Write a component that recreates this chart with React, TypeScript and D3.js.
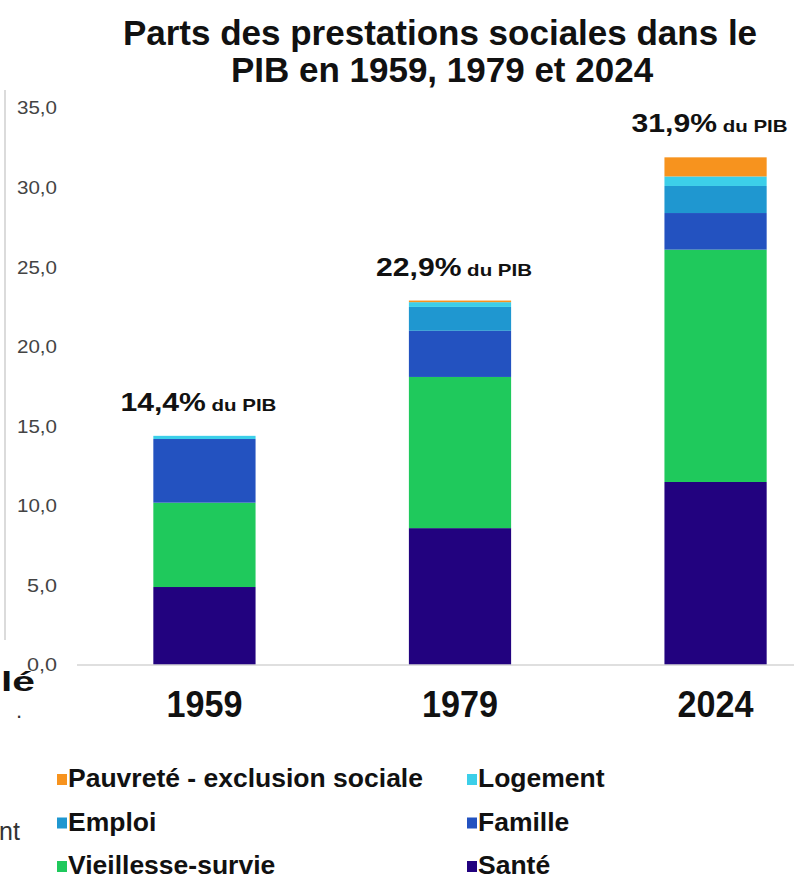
import React from 'react';
import { scaleBand, scaleLinear, stack, format } from 'd3';

const years = ['1959', '1979', '2024'];
const sante = [4.9, 8.6, 11.5];
const vieillesse = [5.3, 9.5, 14.6];
const famille = [4.0, 2.9, 2.3];
const emploi = [0.0, 1.5, 1.7];
const logement = [0.2, 0.3, 0.6];
const pauvrete = [0.0, 0.1, 1.2];
const totalLabels = ['14,4%', '22,9%', '31,9%'];
const yTicks = [0, 5, 10, 15, 20, 25, 30, 35];

const seriesKeys = ['Santé', 'Vieillesse-survie', 'Famille', 'Emploi', 'Logement', 'Pauvreté - exclusion sociale'];
const seriesValues = [sante, vieillesse, famille, emploi, logement, pauvrete];
const colors = ['#22027f', '#1fc95c', '#2352c0', '#1f97d0', '#3ccfe9', '#f7931e'];

// legend order as in the picture (two columns)
const legendRows = [
  ['Pauvreté - exclusion sociale', 'Logement'],
  ['Emploi', 'Famille'],
  ['Vieillesse-survie', 'Santé'],
];

const W = 794;
const H = 879;
const font = 'Arial, "Liberation Sans", Helvetica, sans-serif';

const App = () => {
  const table = years.map((year, i) => {
    const row: any = { year };
    seriesKeys.forEach((k, j) => { row[k] = seriesValues[j][i]; });
    return row;
  });
  const layers = stack().keys(seriesKeys)(table);

  const x = scaleBand().domain(years).range([0, 920]).paddingInner(0.6).paddingOuter(0.6);
  const y = scaleLinear().domain([0, 35]).range([665, 108]);
  const fmt = (v: number) => format('.1f')(v).replace('.', ',');
  const colorOf = (k: string) => colors[seriesKeys.indexOf(k)];

  return (
    <svg width={W} height={H} style={{ position: 'absolute', left: 0, top: 0, background: '#fff' }}
      fontFamily={font}>
      {/* bits of the neighbouring page, cut off at the left */}
      <line x1={5} x2={5} y1={90} y2={640} stroke="#cfcfcf" strokeWidth={1.5} />
      <text x={1} y={691} fontSize={27} fontWeight="bold" fill="#111" textLength={34} lengthAdjust="spacingAndGlyphs">lé</text>
      <text x={16} y={718} fontSize={22} fill="#333">.</text>
      <text x={-1} y={840} fontSize={25} fill="#333">nt</text>

      <text textAnchor="middle" fontSize={35} fontWeight="bold" fill="#111">
        <tspan x={440} y={45}>Parts des prestations sociales dans le</tspan>
        <tspan x={442} y={82}>PIB en 1959, 1979 et 2024</tspan>
      </text>

      {yTicks.map(t => {
        const s = fmt(t);
        return (
          <text key={t} x={57} y={y(t)} dy="0.36em" textAnchor="end" fontSize={18} fill="#444"
            textLength={s.length * 10} lengthAdjust="spacingAndGlyphs">{s}</text>
        );
      })}

      {layers.map(layer => (
        <g key={layer.key} fill={colorOf(layer.key)}>
          {layer.map((d, i) => (
            <rect key={i} x={x(years[i])} width={x.bandwidth()} y={y(d[1])} height={Math.max(0, y(d[0]) - y(d[1]))} />
          ))}
        </g>
      ))}

      <line x1={77} x2={W} y1={y(0)} y2={y(0)} stroke="#d4d4d4" strokeWidth={1.5} />

      {years.map((yr, i) => {
        const total = layers[layers.length - 1][i][1];
        const cx = x(yr)! + x.bandwidth() / 2;
        return (
          <g key={yr}>
            <text x={cx - 84} y={y(total) - 25} fontWeight="bold" fill="#111"
              textLength={156} lengthAdjust="spacingAndGlyphs">
              <tspan fontSize={25}>{totalLabels[i]}</tspan>
              <tspan fontSize={17}> du PIB</tspan>
            </text>
            <text x={cx} y={717} textAnchor="middle" fontSize={36} fontWeight="bold" fill="#111"
              textLength={76} lengthAdjust="spacingAndGlyphs">{yr}</text>
          </g>
        );
      })}

      {legendRows.map((row, r) => row.map((k, c) => {
        const lx = c === 0 ? 57 : 467;
        const ly = 787 + r * 43.5;
        return (
          <g key={k}>
            <rect x={lx} y={ly - 13} width={10} height={11} fill={colorOf(k)} />
            <text x={lx + 11} y={ly} fontSize={26.5} fontWeight="bold" fill="#111">{k}</text>
          </g>
        );
      }))}
    </svg>
  );
};

export default App;
